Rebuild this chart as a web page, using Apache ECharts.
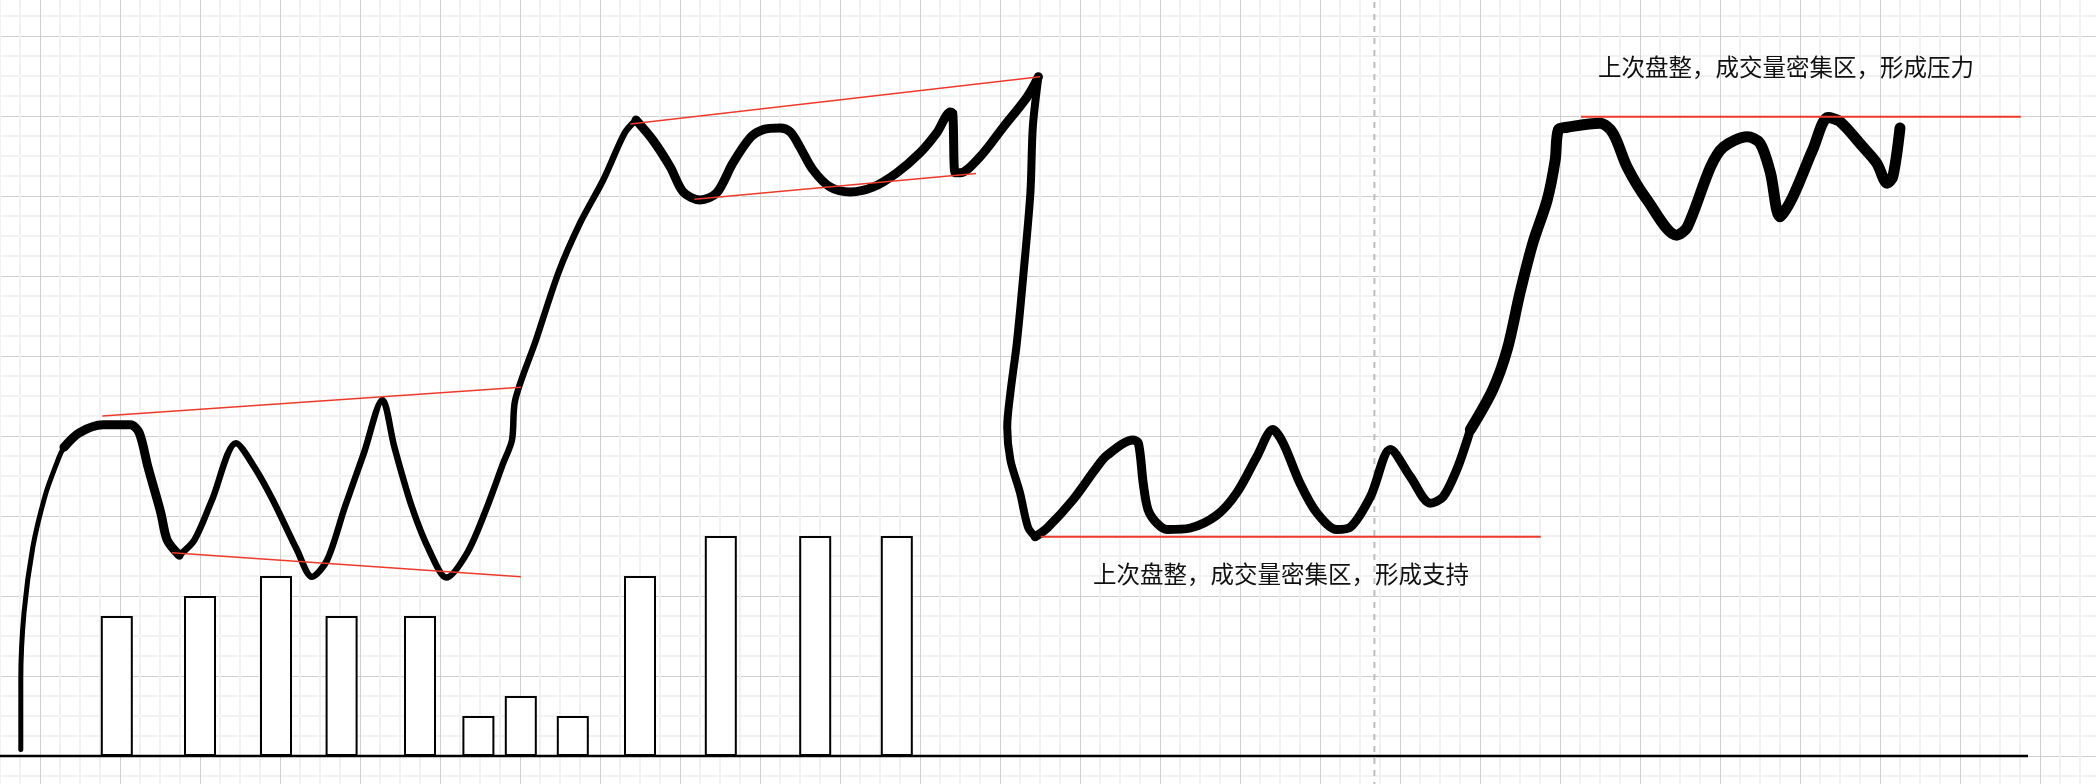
<!DOCTYPE html>
<html>
<head>
<meta charset="utf-8">
<script src="https://cdn.jsdelivr.net/npm/echarts@6/dist/echarts.min.js"></script>
<style>
html,body{margin:0;padding:0;background:#fff;}
#chart{width:2096px;height:784px;}
</style>
</head>
<body>
<div id="chart"></div>
<script>
// Units: one major grid cell = 1 unit. y = 0 is the baseline.
// Price path, split into pen strokes
const strokeRise = [[0.76,0.08],[0.76,0.95],[0.80,1.79],[0.91,2.61],[1.06,3.24],[1.19,3.61],[1.30,3.86],[1.49,4.04]];
const strokePlateau = [[1.30,3.86],[1.49,4.04],[1.79,4.14],[2.13,4.14],[2.24,4.04],[2.35,3.61],[2.51,3.04],[2.59,2.70],[2.74,2.51]];
const strokeZigzag = [[2.74,2.51],[2.93,2.70],[3.15,3.20],[3.45,3.91],[3.68,3.61],[3.91,3.20],[4.21,2.58],[4.40,2.24],[4.59,2.45],[4.81,3.11],[5.05,3.79],[5.28,4.45],[5.43,3.86],[5.65,3.11],[5.88,2.54],[6.08,2.23],[6.34,2.54],[6.56,3.04],[6.79,3.66],[6.90,3.95],[6.94,4.45],[7.20,5.20],[7.48,6.04],[7.75,6.66],[8.04,7.20],[8.31,7.79],[8.45,7.95]];
const strokeTop = [[8.45,7.95],[8.66,7.70],[8.88,7.36],[9.04,7.05],[9.25,6.95],[9.46,7.04],[9.66,7.41],[9.88,7.73],[10.04,7.83],[10.25,7.85],[10.38,7.80],[10.50,7.61],[10.66,7.33],[10.88,7.11],[11.13,7.05],[11.41,7.11],[11.71,7.29],[12.00,7.54],[12.21,7.79],[12.38,8.05],[12.41,8.03],[12.44,7.29],[12.50,7.29],[12.75,7.49],[13.04,7.86],[13.34,8.24],[13.48,8.49]];
const strokeDrop = [[13.48,8.49],[13.41,7.86],[13.38,7.04],[13.29,5.99],[13.21,5.16],[13.13,4.54],[13.09,4.11],[13.13,3.70],[13.25,3.29],[13.35,2.86],[13.44,2.74]];
const strokeBottom = [[13.44,2.74],[13.59,2.85],[13.91,3.20],[14.21,3.61],[14.34,3.76],[14.66,3.95],[14.73,3.91],[14.79,3.41],[14.85,3.08],[14.96,2.91],[15.09,2.83],[15.38,2.85],[15.71,3.01],[15.96,3.29],[16.21,3.74],[16.41,4.08],[16.54,3.91],[16.75,3.41],[16.96,3.04],[17.21,2.83],[17.38,2.86],[17.63,3.24],[17.88,3.83],[18.13,3.49],[18.38,3.16],[18.54,3.24],[18.71,3.58],[18.84,3.95],[18.88,4.08]];
const strokeRight = [[18.88,4.08],[19.16,4.58],[19.34,5.08],[19.50,5.79],[19.66,6.41],[19.84,6.95],[19.94,7.45],[19.98,7.83],[20.09,7.86],[20.50,7.91],[20.66,7.79],[20.84,7.36],[21.09,6.95],[21.46,6.51],[21.59,6.61],[21.88,7.36],[22.04,7.61],[22.34,7.74],[22.50,7.66],[22.63,7.29],[22.75,6.74],[22.91,6.99],[23.16,7.58],[23.35,7.98],[23.50,7.93],[23.79,7.61],[23.96,7.41],[24.09,7.16],[24.16,7.24],[24.25,7.85]];

// Volume bars
const barX = [1.96, 3.00, 3.95, 4.77, 5.75, 6.48, 7.01, 7.66, 8.50, 9.51, 10.69, 11.71];
const barH = [1.75, 2.00, 2.25, 1.75, 1.75, 0.50, 0.75, 0.50, 2.25, 2.75, 2.75, 2.75];

// Red trend lines
const lineUpperLeft = [[1.78,4.25],[7.01,4.61]];
const lineLowerLeft = [[2.65,2.54],[7.01,2.24]];
const lineUpperMid = [[8.38,7.90],[13.50,8.49]];
const lineLowerMid = [[9.18,6.96],[12.70,7.28]];
const lineResistance = [[20.26,7.99],[25.76,7.99]];
const lineSupport = [[13.51,2.74],[19.76,2.74]];

// Baseline and divider
const baseLine = [[0.5,0],[25.85,0]];
const dividerX = 17.68;

const labelResistance = '上次盘整，成交量密集区，形成压力';
const labelSupport = '上次盘整，成交量密集区，形成支持';

const chart = echarts.init(document.getElementById('chart'));

function stroke(data, width){
  return {type:'line', data:data, smooth:0.3, symbol:'none', silent:true, z:5,
    lineStyle:{color:'#000', width:width, cap:'round', join:'round'}};
}
function redLine(data, width){
  return {type:'line', data:data, symbol:'none', silent:true, z:6,
    lineStyle:{color:'#ee3a2c', width:width}};
}

const option = {
  animation:false,
  backgroundColor:'#fff',
  grid:{left:-40, top:-44, width:2160, height:880, containLabel:false, outerBoundsMode:'none'},
  xAxis:{type:'value', min:0, max:27, interval:1,
    axisLine:{show:false}, axisTick:{show:false}, axisLabel:{show:false},
    splitLine:{show:true, lineStyle:{color:'#cfcfcf', width:1}},
    minorTick:{show:false, splitNumber:4},
    minorSplitLine:{show:true, lineStyle:{color:'#f2f2f2', width:2}}},
  yAxis:{type:'value', min:-1, max:10, interval:1,
    axisLine:{show:false}, axisTick:{show:false}, axisLabel:{show:false},
    splitLine:{show:true, lineStyle:{color:'#cfcfcf', width:1}},
    minorTick:{show:false, splitNumber:4},
    minorSplitLine:{show:true, lineStyle:{color:'#f2f2f2', width:2}}},
  series:[
    {type:'line', data:[[dividerX,-1],[dividerX,10]], symbol:'none', silent:true, z:2,
      lineStyle:{color:'#bdbdbd', width:2, type:[6,6]}},
    {type:'bar', data:barX.map((x,i)=>[x, barH[i]]), barWidth:32, silent:true, z:3,
      itemStyle:{color:'#fff', borderColor:'#000', borderWidth:2}},
    {type:'line', data:baseLine, symbol:'none', silent:true, z:4,
      lineStyle:{color:'#000', width:2.5}},
    stroke(strokeRise, 5),
    stroke(strokePlateau, 9),
    stroke(strokeZigzag, 6.5),
    stroke(strokeTop, 9),
    stroke(strokeDrop, 8),
    stroke(strokeBottom, 9),
    stroke(strokeRight, 11),
    redLine(lineUpperLeft, 1.5),
    redLine(lineLowerLeft, 1.5),
    redLine(lineUpperMid, 1.5),
    redLine(lineLowerMid, 1.5),
    redLine(lineResistance, 2),
    redLine(lineSupport, 2)
  ],
  graphic:[
    {type:'text', x:1786, y:67, z:10, style:{text:labelResistance, fill:'#111',
      font:'23.5px "Noto Sans CJK SC"', align:'center', verticalAlign:'middle'}},
    {type:'text', x:1281, y:574, z:10, style:{text:labelSupport, fill:'#111',
      font:'23.5px "Noto Sans CJK SC"', align:'center', verticalAlign:'middle'}}
  ]
};
chart.setOption(option);
</script>
</body>
</html>
